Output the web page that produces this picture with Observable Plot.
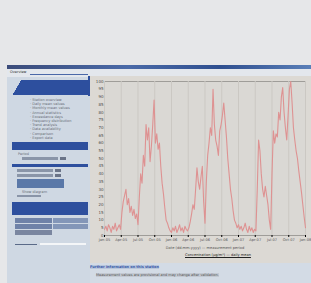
<!DOCTYPE html>
<html><head><meta charset="utf-8">
<script src="https://cdn.jsdelivr.net/npm/d3@7"></script>
<script src="https://cdn.jsdelivr.net/npm/@observablehq/plot@0.6"></script>
<style>
body{margin:0;width:311px;height:283px;overflow:hidden;background:#e6e7e9;font-family:"DejaVu Sans",sans-serif;position:relative}
.a{position:absolute}
.t{position:absolute;font-size:3.5px;line-height:4px;color:#6a6f78;white-space:nowrap}
</style></head><body>
<script>
// series values (relative level)
const values = [4,6,3,7,5,2,6,4,8,3,5,7,4,15,22,26,30,20,24,15,19,13,17,11,14,7,25,40,34,52,45,72,62,70,48,58,72,88,60,66,56,60,45,34,27,18,10,8,5,3,
2,5,3,6,2,4,7,3,5,2,6,4,3,5,9,14,20,17,30,44,35,30,38,45,22,8,35,52,60,70,65,95,72,62,58,52,68,72,78,86,75,64,50,40,30,24,16,10,8,5,
7,4,6,3,5,8,4,2,6,3,5,2,4,3,30,62,55,40,30,25,32,26,20,10,4,40,68,60,66,64,80,75,90,96,80,70,62,78,95,100,86,70,62,55,50,42,35,28,20,12,5];
const xTickLabels = ["Jan-05","Apr-05","Jul-05","Oct-05","Jan-06","Apr-06","Jul-06","Oct-06","Jan-07","Apr-07","Jul-07","Oct-07","Jan-08"];
const yTicks = [0,5,10,15,20,25,30,35,40,45,50,55,60,65,70,75,80,85,90,95,100];
const treeItems = ["Station overview","Daily mean values","Monthly mean values","Annual statistics","Exceedance days","Frequency distribution","Trend analysis","Data availability","Comparison","Export data"];
const xAxisLabel = "Date (dd.mm.yyyy) — measurement period";
const caption = "Concentration (µg/m³) — daily mean";
</script>
<div class="a" style="left:7px;top:65px;width:304px;height:218px;background:#cfd8e3"></div>
<div class="a" style="left:7px;top:65px;width:304px;height:4px;background:linear-gradient(90deg,#3b4c7a,#4a6aa8 40%,#2f4f8f 70%,#5a7fb8)"></div>
<div class="a" style="left:7px;top:69px;width:304px;height:8px;background:#e3e7ed"></div>
<div class="t" style="left:10px;top:70px;color:#333;font-size:3.5px">Overview</div>
<div class="a" style="left:30px;top:74px;width:58px;height:1px;background:#4a68a8"></div>
<div class="a" style="left:12px;top:80px;width:76px;height:15px;background:#2d4f9e"></div>
<div class="a" style="left:12px;top:80px;width:14px;height:15px;background:linear-gradient(120deg,#cfd8e3 40%,#2d4f9e 41%)"></div>
<div id="tree"></div>
<div class="a" style="left:12px;top:142px;width:76px;height:8px;background:#2d4f9e"></div>
<div class="t" style="left:18px;top:152px">Period</div>
<div class="a" style="left:22px;top:157px;width:36px;height:3px;background:#8a95a8"></div>
<div class="a" style="left:60px;top:157px;width:6px;height:3px;background:#6a7488"></div>
<div class="a" style="left:12px;top:164px;width:76px;height:3px;background:#2d4f9e"></div>
<div class="a" style="left:17px;top:169px;width:36px;height:3px;background:#8a95a8"></div>
<div class="a" style="left:55px;top:169px;width:6px;height:3px;background:#6a7488"></div>
<div class="a" style="left:17px;top:174px;width:36px;height:3px;background:#8a95a8"></div>
<div class="a" style="left:55px;top:174px;width:6px;height:3px;background:#6a7488"></div>
<div class="a" style="left:17px;top:179px;width:47px;height:9px;background:#5a78a8"></div>
<div class="t" style="left:22px;top:190px">Show diagram</div>
<div class="a" style="left:17px;top:195px;width:24px;height:2px;background:#8a95a8"></div>
<div class="a" style="left:12px;top:202px;width:76px;height:13px;background:#2d4f9e"></div>
<div class="a" style="left:15px;top:218px;width:37px;height:5px;background:#6f82a8"></div>
<div class="a" style="left:53px;top:218px;width:35px;height:5px;background:#8396b8"></div>
<div class="a" style="left:15px;top:224px;width:37px;height:5px;background:#6f82a8"></div>
<div class="a" style="left:53px;top:224px;width:35px;height:5px;background:#8396b8"></div>
<div class="a" style="left:15px;top:230px;width:37px;height:5px;background:#7a86a0"></div>
<div class="a" style="left:15px;top:244px;width:22px;height:1px;background:#5a6a88"></div>
<div class="a" style="left:40px;top:243px;width:46px;height:2px;background:#f4f6f8"></div>
<div class="a" style="left:88px;top:76px;width:2px;height:20px;background:#2d4f9e"></div>
<div class="a" style="left:90px;top:76px;width:221px;height:187px;background:#dcd9d4"></div>
<div class="a" style="left:90px;top:263px;width:221px;height:20px;background:#d3dbe5"></div>
<div class="t" style="left:90px;top:265px;color:#3a5aa8;font-weight:bold;background:#b8c6dc">Further information on this station</div>
<div class="t" style="left:96px;top:273px;color:#555;background:#c3c9d2">Measurement values are provisional and may change after validation.</div>
<div id="chart" class="a" style="left:90px;top:76px"></div>
<div id="cap" class="t" style="left:185px;top:253px;color:#222;text-decoration:underline;font-size:3.6px"></div>
<script>
document.getElementById("cap").textContent = caption;
const tree = document.getElementById("tree");
treeItems.forEach((s,k)=>{
  const d=document.createElement("div");d.className="t";
  d.style.left="30px";d.style.top=(98+k*4.2)+"px";d.textContent="· "+s;tree.appendChild(d);
});
const data = values.map((v,i)=>({i,v}));
const n = values.length-1;
const xTickPos = xTickLabels.map((_,k)=>k*n/(xTickLabels.length-1));
const chart = Plot.plot({
  width:221,height:176,
  marginLeft:14,marginRight:6,marginTop:5,marginBottom:17,
  style:{background:"transparent",fontFamily:"DejaVu Sans",fontSize:"4px"},
  x:{domain:[0,n]},
  y:{domain:[0,100]},
  marks:[
    Plot.frame({fill:"#dad8d4",stroke:"#9f9d99"}),
    Plot.gridX(xTickPos,{stroke:"#cbc8c3",strokeOpacity:1}),
    Plot.lineY(data,{x:"i",y:"v",stroke:"#de9292",strokeWidth:1.1}),
    Plot.axisY(yTicks,{tickSize:0,tickPadding:1,fontSize:4,fill:"#4d4d4d",label:null}),
    Plot.axisX(xTickPos,{tickSize:2,tickPadding:1,fontSize:3.6,fill:"#555",tickFormat:(d,k)=>xTickLabels[k],label:xAxisLabel,labelAnchor:"center",labelArrow:"none",labelOffset:13})
  ]
});
document.getElementById("chart").appendChild(chart);
</script>
</body></html>
